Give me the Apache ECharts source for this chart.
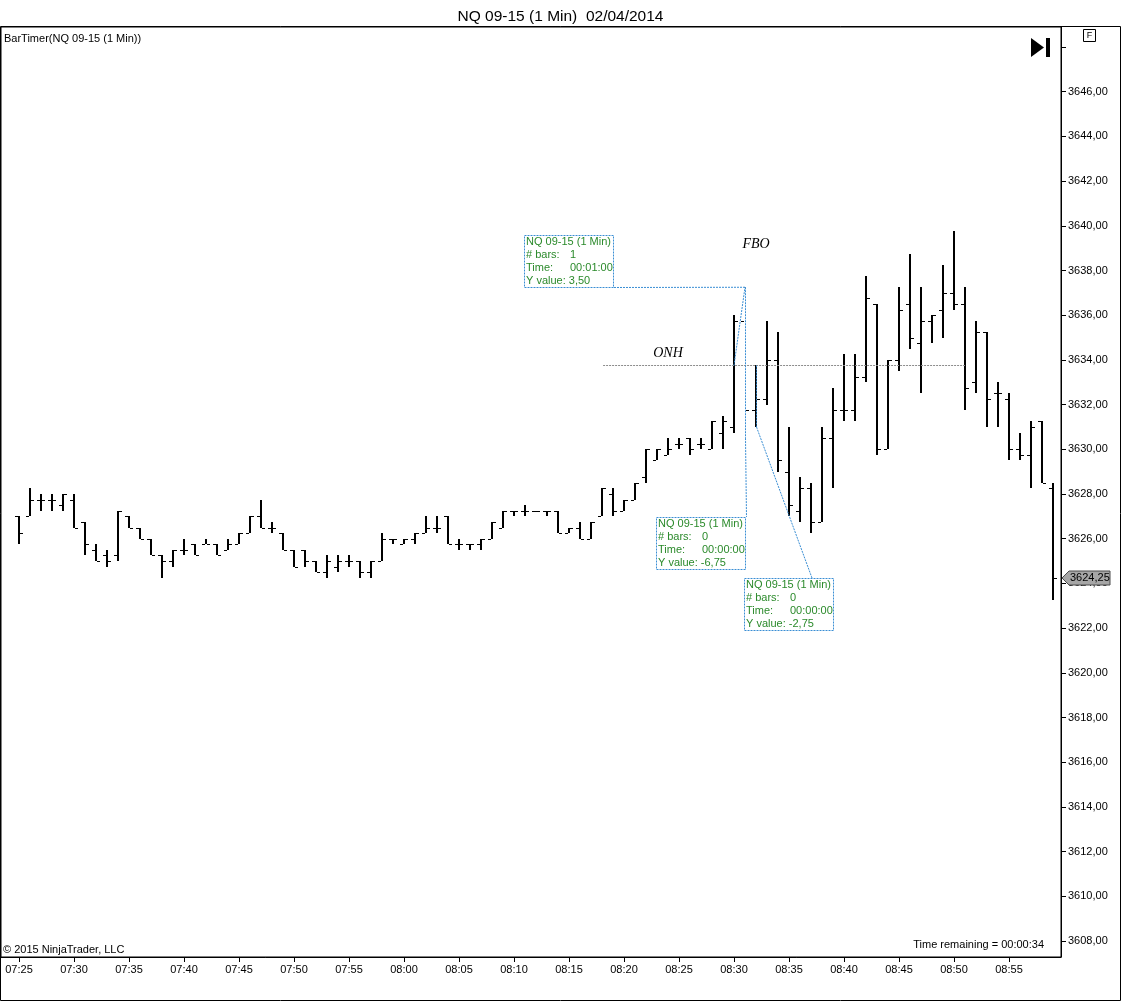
<!DOCTYPE html>
<html>
<head>
<meta charset="utf-8">
<title>NQ 09-15 (1 Min)</title>
<script src="https://cdn.jsdelivr.net/npm/echarts@6/dist/echarts.min.js"></script>
<style>
  html, body { margin: 0; padding: 0; background: #fff; }
  #container { width: 1121px; height: 1002px; }
</style>
</head>
<body>
<div id="container"></div>
<script>
// 1 minute bars, index 0 = 07:25, last = 08:59
var opens = [
    3627.00, 3627.00, 3627.75, 3627.75, 3627.50, 3627.75, 3626.75, 3625.50, 3625.25, 3625.25,
    3627.00, 3626.50, 3626.00, 3625.25, 3625.00, 3625.50, 3625.75, 3625.75, 3625.75, 3625.50,
    3625.75, 3626.25, 3627.00, 3626.50, 3626.25, 3625.50, 3625.50, 3625.00, 3624.50, 3624.75,
    3625.00, 3625.00, 3624.50, 3625.00, 3626.00, 3625.75, 3626.00, 3626.25, 3626.50, 3627.00,
    3625.75, 3625.75, 3625.75, 3626.00, 3626.50, 3627.25, 3627.25, 3627.25, 3627.25, 3627.25,
    3626.25, 3626.50, 3626.00, 3627.00, 3628.00, 3627.25, 3627.75, 3628.75, 3629.50, 3629.75,
    3630.25, 3630.50, 3630.25, 3630.00, 3630.75, 3631.00, 3635.75, 3631.75, 3632.25, 3634.00,
    3629.00, 3627.25, 3628.25, 3626.75, 3630.50, 3631.75, 3631.75, 3633.25, 3636.50, 3630.00,
    3634.00, 3636.50, 3634.75, 3635.75, 3636.25, 3637.00, 3636.50, 3633.00, 3635.25, 3632.50,
    3632.25, 3630.00, 3629.75, 3631.25, 3628.25
];
var highs = [
    3627.00, 3628.25, 3628.00, 3628.00, 3628.00, 3628.00, 3626.75, 3625.75, 3625.50, 3627.25,
    3627.00, 3626.50, 3626.00, 3625.25, 3625.50, 3626.00, 3625.75, 3626.00, 3625.75, 3626.00,
    3626.25, 3627.00, 3627.75, 3626.75, 3626.25, 3625.50, 3625.50, 3625.00, 3625.25, 3625.25,
    3625.25, 3625.00, 3625.00, 3626.25, 3626.00, 3626.00, 3626.25, 3627.00, 3627.00, 3627.00,
    3626.00, 3625.75, 3626.00, 3626.75, 3627.25, 3627.25, 3627.50, 3627.25, 3627.25, 3627.25,
    3626.50, 3626.75, 3626.75, 3628.25, 3628.25, 3627.75, 3628.50, 3630.00, 3630.00, 3630.50,
    3630.50, 3630.50, 3630.50, 3631.25, 3631.50, 3636.00, 3637.25, 3633.75, 3635.75, 3635.25,
    3631.00, 3628.75, 3628.50, 3631.00, 3632.75, 3634.25, 3634.25, 3637.75, 3636.50, 3634.00,
    3637.25, 3638.75, 3637.25, 3636.00, 3638.25, 3639.75, 3637.25, 3635.75, 3635.25, 3633.00,
    3632.50, 3630.75, 3631.25, 3631.25, 3628.50
];
var lows = [
    3625.75, 3627.00, 3627.25, 3627.25, 3627.25, 3626.50, 3625.25, 3625.00, 3624.75, 3625.00,
    3626.50, 3626.00, 3625.25, 3624.25, 3624.75, 3625.25, 3625.25, 3625.75, 3625.25, 3625.50,
    3625.75, 3626.25, 3626.50, 3626.25, 3625.50, 3624.75, 3624.75, 3624.50, 3624.25, 3624.50,
    3624.75, 3624.25, 3624.25, 3625.00, 3625.75, 3625.75, 3625.75, 3626.25, 3626.25, 3625.75,
    3625.50, 3625.50, 3625.50, 3626.00, 3626.50, 3627.00, 3627.00, 3627.25, 3627.00, 3626.25,
    3626.25, 3626.00, 3626.00, 3627.00, 3627.00, 3627.25, 3627.75, 3628.50, 3629.50, 3629.75,
    3630.00, 3629.75, 3630.00, 3630.00, 3630.00, 3630.75, 3630.50, 3631.00, 3632.00, 3629.00,
    3627.00, 3626.75, 3626.25, 3626.75, 3628.25, 3631.25, 3631.25, 3633.00, 3629.75, 3630.00,
    3633.50, 3634.50, 3632.50, 3634.75, 3635.00, 3636.25, 3631.75, 3632.50, 3631.00, 3631.00,
    3629.50, 3629.50, 3628.25, 3628.50, 3623.25
];
var closes = [
    3626.25, 3627.75, 3627.75, 3627.75, 3628.00, 3626.50, 3625.75, 3625.00, 3625.00, 3627.25,
    3626.50, 3626.00, 3625.25, 3625.00, 3625.50, 3625.50, 3625.25, 3625.75, 3625.25, 3625.75,
    3626.25, 3627.00, 3626.50, 3626.50, 3625.50, 3624.75, 3625.00, 3624.50, 3625.00, 3625.00,
    3625.00, 3624.50, 3625.00, 3626.00, 3626.00, 3626.00, 3626.25, 3626.50, 3626.50, 3625.75,
    3625.75, 3625.75, 3626.00, 3626.75, 3627.25, 3627.25, 3627.25, 3627.25, 3627.25, 3626.25,
    3626.50, 3626.00, 3626.75, 3628.25, 3627.25, 3627.75, 3628.50, 3630.00, 3630.00, 3630.00,
    3630.25, 3630.00, 3630.25, 3631.25, 3631.25, 3635.75, 3631.75, 3632.25, 3634.00, 3629.50,
    3627.50, 3628.25, 3626.75, 3630.50, 3631.75, 3631.75, 3633.25, 3636.75, 3630.00, 3634.00,
    3636.25, 3635.00, 3635.75, 3636.00, 3637.00, 3636.50, 3632.75, 3635.25, 3632.25, 3632.50,
    3630.00, 3629.75, 3631.00, 3628.50, 3624.25
];

var timeTicks = [0, 5, 10, 15, 20, 25, 30, 35, 40, 45, 50, 55, 60, 65, 70, 75, 80, 85, 90];
var timeTickLabels = ['07:25', '07:30', '07:35', '07:40', '07:45', '07:50', '07:55', '08:00', '08:05', '08:10',
    '08:15', '08:20', '08:25', '08:30', '08:35', '08:40', '08:45', '08:50', '08:55'];
var priceTicks = [3608, 3610, 3612, 3614, 3616, 3618, 3620, 3622, 3624, 3626, 3628,
    3630, 3632, 3634, 3636, 3638, 3640, 3642, 3644, 3646, 3648];
var priceLabels = [3608, 3610, 3612, 3614, 3616, 3618, 3620, 3622, 3624, 3626, 3628,
    3630, 3632, 3634, 3636, 3638, 3640, 3642, 3644, 3646];

var onhLevel = 3633.75;
var lastPrice = 3624.25;

// ruler drawings: start/end in [bar index, price]
var rulers = [
    { from: [65, 3633.75], to: [66, 3637.25] },
    { from: [66, 3637.25], to: [66, 3630.50] },
    { from: [67, 3633.75], to: [67, 3631.00] }
];
var rulerTexts = [
    ['NQ 09-15 (1 Min)', '# bars:', '1', 'Time:', '00:01:00', 'Y value: 3,50'],
    ['NQ 09-15 (1 Min)', '# bars:', '0', 'Time:', '00:00:00', 'Y value: -6,75'],
    ['NQ 09-15 (1 Min)', '# bars:', '0', 'Time:', '00:00:00', 'Y value: -2,75']
];

var FONT = '"Liberation Sans", Arial, sans-serif';
var BLUE = '#3a8ed4';
var GREEN = '#2b8a2b';

function fmtPrice(v) {
    return v.toFixed(2).replace('.', ',');
}

/*==========================================
 * OHLC bar
 */
function renderOhlc(params, api) {
    var i = api.value(0);
    var o = api.coord([i, api.value(1)]);
    var h = api.coord([i, api.value(2)]);
    var l = api.coord([i, api.value(3)]);
    var c = api.coord([i, api.value(4)]);
    var x = Math.round(h[0]);
    var yTop = Math.round(h[1]);
    var yBot = Math.max(Math.round(l[1]), yTop + 1);
    var yo = Math.round(o[1]) + 0.5;
    var yc = Math.round(c[1]) + 0.5;
    var st = { stroke: '#000', lineWidth: 1 };
    return {
        type: 'group',
        children: [
            { type: 'line', shape: { x1: x, y1: yTop, x2: x, y2: yBot }, style: { stroke: '#000', lineWidth: 2 } },
            { type: 'line', shape: { x1: x - 4, y1: yo, x2: x - 1, y2: yo }, style: st },
            { type: 'line', shape: { x1: x + 1, y1: yc, x2: x + 4, y2: yc }, style: st }
        ]
    };
}

var barData = [];
for (var i = 0; i < opens.length; i++) {
    barData.push([i, opens[i], highs[i], lows[i], closes[i]]);
}

var dom = document.getElementById('container');
var myChart = echarts.init(dom, null, { renderer: 'canvas' });

var option = {
    animation: false,
    backgroundColor: '#fff',
    title: {
        text: 'NQ 09-15 (1 Min)  02/04/2014',
        left: 'center',
        top: 4,
        textStyle: { fontFamily: FONT, fontSize: 15.5, fontWeight: 'normal', color: '#000' }
    },
    grid: {
        left: 1, right: 60, top: 27, bottom: 45,
        show: true, borderColor: '#000', borderWidth: 1,
        containLabel: false
    },
    xAxis: {
        type: 'value',
        min: -1.636,
        max: 94.727,
        position: 'bottom',
        axisLine: { show: true, onZero: false, lineStyle: { color: '#000', width: 1 } },
        axisTick: { show: true, customValues: timeTicks, length: 5, lineStyle: { color: '#000' } },
        axisLabel: {
            show: true,
            customValues: timeTicks,
            margin: 7,
            fontFamily: FONT,
            fontSize: 11,
            color: '#000',
            formatter: function(v) {
                var k = timeTicks.indexOf(Math.round(v));
                return k >= 0 ? timeTickLabels[k] : '';
            }
        },
        splitLine: { show: false }
    },
    yAxis: {
        type: 'value',
        position: 'right',
        min: 3607.284,
        max: 3648.895,
        axisLine: { show: true, onZero: false, lineStyle: { color: '#000', width: 1 } },
        axisTick: { show: true, customValues: priceTicks, length: 5, inside: false, lineStyle: { color: '#000' } },
        axisLabel: {
            show: true,
            customValues: priceLabels,
            margin: 7,
            fontFamily: FONT,
            fontSize: 11,
            color: '#000',
            formatter: function(v) { return fmtPrice(v); }
        },
        splitLine: { show: false }
    },
    series: [{
        type: 'custom',
        name: 'NQ 09-15',
        renderItem: renderOhlc,
        encode: { x: 0, y: [1, 2, 3, 4] },
        data: barData,
        clip: true,
        z: 2
    }]
};

myChart.setOption(option);

/*==========================================
 * drawings on top of the price panel
 */
function px(pt) {
    return myChart.convertToPixel({ gridIndex: 0 }, pt);
}

function dashLine(a, b, color) {
    return {
        type: 'line',
        shape: { x1: a[0], y1: a[1], x2: b[0], y2: b[1] },
        style: { stroke: color || BLUE, lineWidth: 1, lineDash: [2, 1] },
        z: 10
    };
}

function whiteLine(a, b) {
    return {
        type: 'line',
        shape: { x1: a[0], y1: a[1], x2: b[0], y2: b[1] },
        style: { stroke: '#fff', lineWidth: 2 },
        z: 9
    };
}

function rulerBox(x, y, lines) {
    var w = 89, h = 52;
    var els = [{
        type: 'rect',
        shape: { x: x + 0.5, y: y + 0.5, width: w, height: h },
        style: { fill: 'rgba(255,255,255,0)', stroke: BLUE, lineWidth: 1, lineDash: [2, 1] },
        z: 10
    }];
    var txt = function(s, tx, ty) {
        els.push({
            type: 'text', z: 11,
            style: { text: s, x: tx, y: ty, fill: GREEN, font: '11px ' + FONT, verticalAlign: 'middle' }
        });
    };
    txt(lines[0], x + 2, y + 7);
    txt(lines[1], x + 2, y + 20);
    txt(lines[2], x + 46, y + 20);
    txt(lines[3], x + 2, y + 33);
    txt(lines[4], x + 46, y + 33);
    txt(lines[5], x + 2, y + 46);
    return els;
}

var g = [];

// outer frame
g.push({ type: 'rect', shape: { x: 0.5, y: 26.5, width: 1120, height: 974 },
    style: { fill: 'none', stroke: '#000', lineWidth: 1 }, z: 20 });

// ONH level
var onhA = px([53.1, onhLevel]);
var onhB = px([86, onhLevel]);
g.push(dashLine([onhA[0], Math.round(onhA[1]) + 0.5], [onhB[0], Math.round(onhB[1]) + 0.5], '#8c8c8c'));
var onhT = px([59, 3634.30]);
g.push({ type: 'text', z: 11, style: { text: 'ONH', x: onhT[0], y: onhT[1], fill: '#000',
    font: 'italic 14px "Liberation Serif", "DejaVu Serif", serif', align: 'center', verticalAlign: 'middle' } });
var fboT = px([67, 3639.15]);
g.push({ type: 'text', z: 11, style: { text: 'FBO', x: fboT[0], y: fboT[1], fill: '#000',
    font: 'italic 14px "Liberation Serif", "DejaVu Serif", serif', align: 'center', verticalAlign: 'middle' } });

// rulers
var r1a = px(rulers[0].from), r1b = px(rulers[0].to);
var r2a = px(rulers[1].from), r2b = px(rulers[1].to);
var r3a = px(rulers[2].from), r3b = px(rulers[2].to);
var box1 = px([45.9, 3639.59]);
var box2 = px([57.9, 3626.97]);
var box3 = px([65.9, 3624.24]);
box1 = [Math.round(box1[0]), Math.round(box1[1])];
box2 = [Math.round(box2[0]), Math.round(box2[1])];
box3 = [Math.round(box3[0]), Math.round(box3[1])];

g.push(dashLine(r1a, r1b));
g.push(dashLine(r1b, [box1[0] + 89, box1[1] + 52.5]));
g.push(whiteLine([r2a[0], r2a[1]], [r2b[0], box2[1]]));
g.push(dashLine([r2a[0] + 0.5, r2a[1]], [r2b[0] + 0.5, r2b[1]]));
g.push(dashLine([r2b[0] + 0.5, r2b[1]], [box2[0] + 90.5, box2[1]]));
g.push(dashLine([r3a[0] + 0.5, r3a[1]], [r3b[0] + 0.5, r3b[1]]));
g.push(dashLine([r3b[0] + 0.5, r3b[1]], [box3[0] + 68, box3[1]]));
g = g.concat(rulerBox(box1[0], box1[1], rulerTexts[0]));
g = g.concat(rulerBox(box2[0], box2[1], rulerTexts[1]));
g = g.concat(rulerBox(box3[0], box3[1], rulerTexts[2]));

// last price marker on the price axis
var lp = px([94.727, lastPrice]);
var ly = Math.round(lp[1]);
var lx = Math.round(lp[0]);
g.push({
    type: 'polygon', z: 12,
    shape: { points: [[lx + 1, ly], [lx + 8, ly - 7], [lx + 49, ly - 7], [lx + 49, ly + 7], [lx + 8, ly + 7]] },
    style: { fill: '#a6a6a6', stroke: '#4d4d4d', lineWidth: 1 }
});
g.push({ type: 'text', z: 13, style: { text: fmtPrice(lastPrice), x: lx + 9, y: ly, fill: '#000',
    font: '11px ' + FONT, verticalAlign: 'middle' } });

// top-left indicator label
g.push({ type: 'text', z: 11, style: { text: 'BarTimer(NQ 09-15 (1 Min))', x: 4, y: 39, fill: '#000',
    font: '11px ' + FONT, verticalAlign: 'middle' } });

// skip-to-end icon
g.push({ type: 'polygon', z: 11, shape: { points: [[1031, 38], [1031, 57], [1044, 47.5]] }, style: { fill: '#000' } });
g.push({ type: 'rect', z: 11, shape: { x: 1046, y: 38, width: 4, height: 19 }, style: { fill: '#000' } });

// "F" button
g.push({ type: 'rect', z: 11, shape: { x: 1083.5, y: 29.5, width: 12, height: 12 },
    style: { fill: '#fff', stroke: '#000', lineWidth: 1 } });
g.push({ type: 'text', z: 12, style: { text: 'F', x: 1089.5, y: 36, fill: '#000',
    font: '9px ' + FONT, align: 'center', verticalAlign: 'middle' } });

// footer texts
g.push({ type: 'text', z: 11, style: { text: '\u00a9 2015 NinjaTrader, LLC', x: 3, y: 950, fill: '#000',
    font: '11px ' + FONT, verticalAlign: 'middle' } });
g.push({ type: 'text', z: 11, style: { text: 'Time remaining = 00:00:34', x: 1044, y: 945, fill: '#000',
    font: '11px ' + FONT, align: 'right', verticalAlign: 'middle' } });

myChart.setOption({ graphic: { elements: g } });
</script>
</body>
</html>
